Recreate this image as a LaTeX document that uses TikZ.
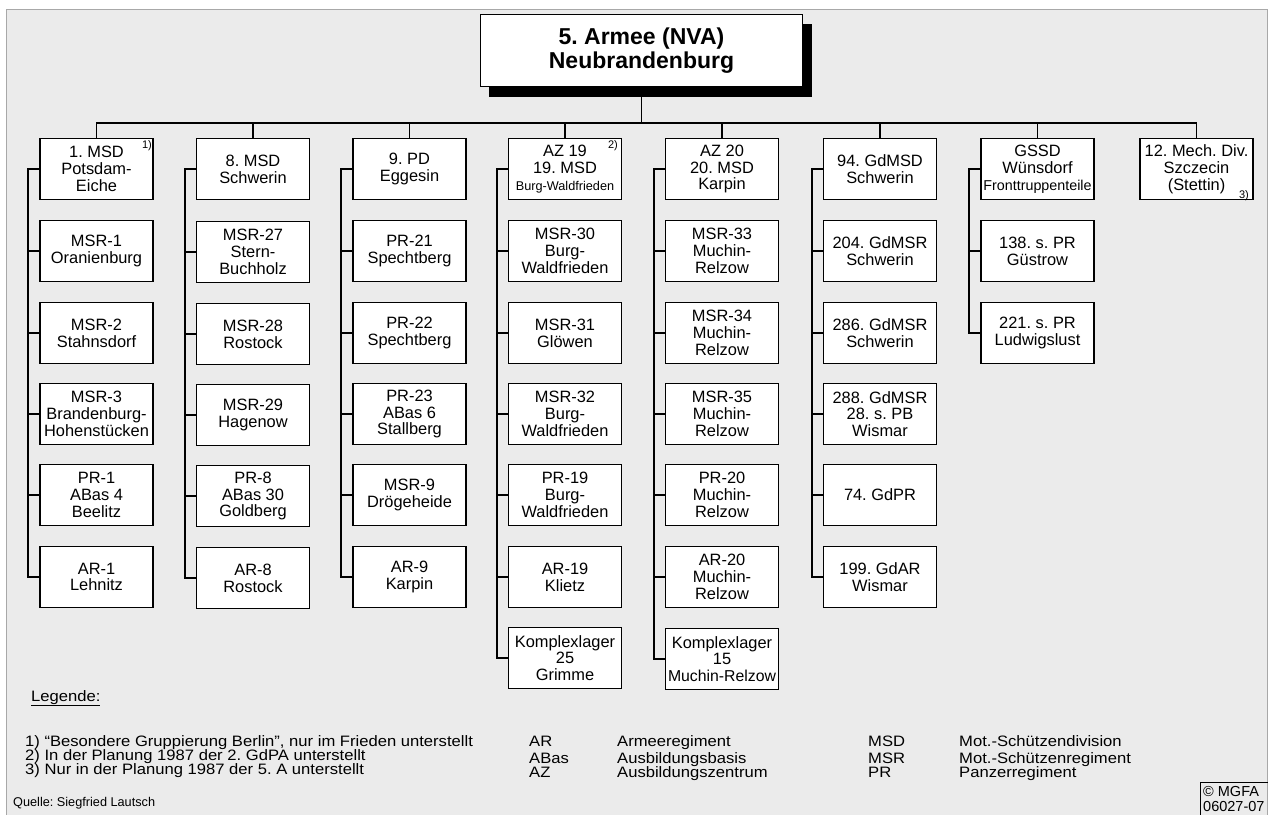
\documentclass[tikz,border=0pt]{standalone}
\usepackage{fontspec}
\setmainfont{Liberation Sans}
\newfontfamily\legfamily{Liberation Sans}[FakeStretch=1.1]
\usetikzlibrary{backgrounds}
\frenchspacing

\definecolor{panelgray}{HTML}{EBEBEB}
\definecolor{framegray}{HTML}{A8A8A8}

\newcommand\unitfont{\fontsize{16.4}{16.8}\selectfont}
\newcommand\legfont{\legfamily\fontsize{15.1}{15}\selectfont}

\begin{document}
\begin{tikzpicture}[x=1pt,y=-1pt,
  unit/.style={draw, line width=1.6pt, fill=white, minimum width=113pt,
    minimum height=61pt, inner sep=1pt, align=center, font=\unitfont},
  conn/.style={line width=1.6pt, line join=miter},
  note/.style={font=\fontsize{11}{11}\selectfont, inner sep=0pt},
  legtext/.style={anchor=base west, inner sep=0pt, font=\legfont},
  tagtext/.style={anchor=base west, inner sep=0pt, font=\fontsize{14.5}{14.5}\selectfont},
]
\useasboundingbox (0,0) rectangle (1269,814);

% ---- army headquarters ----
\node[draw, line width=1.6pt, fill=white, minimum width=322pt, minimum height=72pt,
  align=center, font=\bfseries\fontsize{23}{24}\selectfont] (army) at (641.5,50.5)
  {5. Armee (NVA)\\Neubrandenburg};

% ---- divisions ----
\node[unit] (c1) at (96.5,169) {1. MSD\\Potsdam-\\Eiche};
\node[unit] (c2) at (253,169) {8. MSD\\Schwerin};
\node[unit] (c3) at (409.5,169) {9. PD\\Eggesin};
\node[unit] (c4) at (565,169) {AZ 19\\19. MSD\\{\fontsize{12.7}{13}\selectfont Burg-Waldfrieden}};
\node[unit] (c5) at (722,169) {AZ 20\\20. MSD\\Karpin};
\node[unit] (c6) at (880,169) {94. GdMSD\\Schwerin};
\node[unit] (c7) at (1037.5,169) {GSSD\\Wünsdorf\\{\fontsize{14.3}{14}\selectfont Fronttruppenteile}};
\node[unit] (c8) at (1196.5,169) {12. Mech. Div.\\Szczecin\\(Stettin)};

\node[note] (n1) at (147,146) {1)};
\node[note] (n2) at (613,146) {2)};
\node[note] (n3) at (1244,196) {3)};

% ---- 1. MSD ----
\node[unit] (c1r1) at (96.5,251) {MSR-1\\Oranienburg};
\node[unit] (c1r2) at (96.5,333) {MSR-2\\Stahnsdorf};
\node[unit] (c1r3) at (96.5,414) {MSR-3\\Brandenburg-\\Hohenstücken};
\node[unit] (c1r4) at (96.5,495) {PR-1\\ABas 4\\Beelitz};
\node[unit] (c1r5) at (96.5,577) {AR-1\\Lehnitz};

% ---- 8. MSD ----
\node[unit] (c2r1) at (253,252) {MSR-27\\Stern-\\Buchholz};
\node[unit] (c2r2) at (253,334) {MSR-28\\Rostock};
\node[unit] (c2r3) at (253,415) {MSR-29\\Hagenow};
\node[unit] (c2r4) at (253,496) {PR-8\\ABas 30\\Goldberg};
\node[unit] (c2r5) at (253,578) {AR-8\\Rostock};

% ---- 9. PD ----
\node[unit] (c3r1) at (409.5,251) {PR-21\\Spechtberg};
\node[unit] (c3r2) at (409.5,333) {PR-22\\Spechtberg};
\node[unit] (c3r3) at (409.5,414) {PR-23\\ABas 6\\Stallberg};
\node[unit] (c3r4) at (409.5,495) {MSR-9\\Drögeheide};
\node[unit] (c3r5) at (409.5,577) {AR-9\\Karpin};

% ---- AZ 19 ----
\node[unit] (c4r1) at (565,251) {MSR-30\\Burg-\\Waldfrieden};
\node[unit] (c4r2) at (565,333) {MSR-31\\Glöwen};
\node[unit] (c4r3) at (565,414) {MSR-32\\Burg-\\Waldfrieden};
\node[unit] (c4r4) at (565,495) {PR-19\\Burg-\\Waldfrieden};
\node[unit] (c4r5) at (565,577) {AR-19\\Klietz};
\node[unit] (c4r6) at (565,658) {Komplexlager\\25\\Grimme};

% ---- AZ 20 ----
\node[unit] (c5r1) at (722,251) {MSR-33\\Muchin-\\Relzow};
\node[unit] (c5r2) at (722,333) {MSR-34\\Muchin-\\Relzow};
\node[unit] (c5r3) at (722,414) {MSR-35\\Muchin-\\Relzow};
\node[unit] (c5r4) at (722,495) {PR-20\\Muchin-\\Relzow};
\node[unit] (c5r5) at (722,577) {AR-20\\Muchin-\\Relzow};
\node[unit] (c5r6) at (722,659) {Komplexlager\\15\\{\fontsize{15.8}{16.8}\selectfont Muchin-Relzow}};

% ---- 94. GdMSD ----
\node[unit] (c6r1) at (880,251) {204. GdMSR\\Schwerin};
\node[unit] (c6r2) at (880,333) {286. GdMSR\\Schwerin};
\node[unit] (c6r3) at (880,414) {288. GdMSR\\28. s. PB\\Wismar};
\node[unit] (c6r4) at (880,495) {74. GdPR};
\node[unit] (c6r5) at (880,577) {199. GdAR\\Wismar};

% ---- GSSD ----
\node[unit] (c7r1) at (1037.5,251) {138. s. PR\\Güstrow};
\node[unit] (c7r2) at (1037.5,333) {221. s. PR\\Ludwigslust};

% ---- connectors: army to divisions ----
\coordinate (bus) at (0,123);
\draw[conn] (army.south) -- (army.south |- bus);
\draw[conn] (c1.north) -- (c1.north |- bus) -- (c8.north |- bus) -- (c8.north);
\foreach \d in {c2,c3,c4,c5,c6,c7}
  \draw[conn] (\d.north) -- (\d.north |- bus);

% ---- connectors: divisions to regiments ----
\draw[conn] (c1.west) -- ++(-11,0) |- (c1r5.west);
\draw[conn] (c2.west) -- ++(-11,0) |- (c2r5.west);
\draw[conn] (c3.west) -- ++(-11,0) |- (c3r5.west);
\draw[conn] (c4.west) -- ++(-11,0) |- (c4r6.west);
\draw[conn] (c5.west) -- ++(-11,0) |- (c5r6.west);
\draw[conn] (c6.west) -- ++(-11,0) |- (c6r5.west);
\draw[conn] (c7.west) -- ++(-11,0) |- (c7r2.west);
\foreach \r in {c1r1,c1r2,c1r3,c1r4, c2r1,c2r2,c2r3,c2r4, c3r1,c3r2,c3r3,c3r4,
  c4r1,c4r2,c4r3,c4r4,c4r5, c5r1,c5r2,c5r3,c5r4,c5r5, c6r1,c6r2,c6r3,c6r4, c7r1}
  \draw[conn] (\r.west) -- ++(-11,0);

% ---- legend ----
\node[legtext] (leg) at (31,701) {\underline{Legende:}};
\node[legtext] (fn1) at (25,746) {1) “Besondere Gruppierung Berlin”, nur im Frieden unterstellt};
\node[legtext] (fn2) at (25,760) {2) In der Planung 1987 der 2. GdPA unterstellt};
\node[legtext] (fn3) at (25,774) {3) Nur in der Planung 1987 der 5. A unterstellt};

\node[legtext] (abAR) at (529,746) {AR};
\node[legtext] (abABas) at (529,763) {ABas};
\node[legtext] (abAZ) at (529,777) {AZ};
\node[legtext] (lgAR) at (617,746) {Armeeregiment};
\node[legtext] (lgABas) at (617,763) {Ausbildungsbasis};
\node[legtext] (lgAZ) at (617,777) {Ausbildungszentrum};

\node[legtext] (abMSD) at (868,746) {MSD};
\node[legtext] (abMSR) at (868,763) {MSR};
\node[legtext] (abPR) at (868,777) {PR};
\node[legtext] (lgMSD) at (959,746) {Mot.-Schützendivision};
\node[legtext] (lgMSR) at (959,763) {Mot.-Schützenregiment};
\node[legtext] (lgPR) at (959,777) {Panzerregiment};

\node[anchor=base west, inner sep=0pt, font=\fontsize{12.7}{13}\selectfont] (src) at (13,806)
  {Quelle: Siegfried Lautsch};

% ---- copyright tag ----
\draw[line width=0.8pt] (1268,830) -- (1200.5,830) |- (1268,782.5);
\node[tagtext] (copy1) at (1203,796) {© MGFA};
\node[tagtext] (copy2) at (1203,811) {06027-07};

% ---- panel and shadow ----
\begin{scope}[on background layer]
  \fill[white] (0,0) rectangle (1269,814);
  \draw[framegray, fill=panelgray, line width=1pt] (6,9.5) rectangle (1267,830);
  \fill[black] ([xshift=9pt,yshift=-10pt]army.south west) rectangle ([xshift=9pt,yshift=-10pt]army.north east);
\end{scope}
\end{tikzpicture}
\end{document}
